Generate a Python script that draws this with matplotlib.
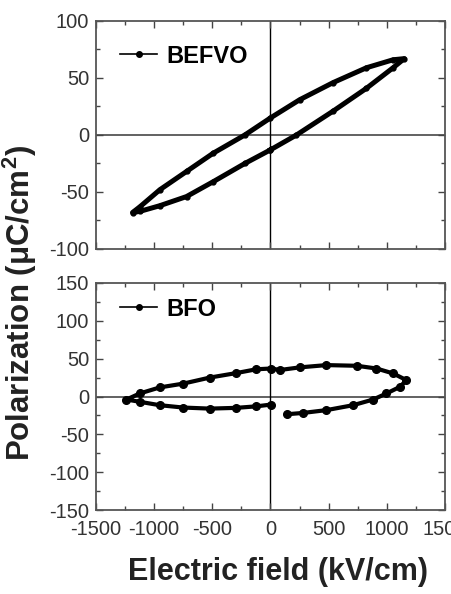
import matplotlib
matplotlib.use("Agg")
import matplotlib.pyplot as plt
from matplotlib.lines import Line2D
from matplotlib.ticker import MultipleLocator

plt.rcParams["font.family"] = ["Liberation Sans", "DejaVu Sans"]
plt.rcParams["mathtext.fontset"] = "custom"
plt.rcParams["mathtext.bf"] = "Liberation Sans:bold"
plt.rcParams["mathtext.rm"] = "Liberation Sans"
plt.rcParams["axes.unicode_minus"] = False

# BEFVO loop (kV/cm, uC/cm2)
befvo_e = [0, 223, 539, 825, 1054, 1150,
           1054, 825, 539, 252, 0, -221, -493, -722, -951, -1123, -1186,
           -1123, -951, -722, -493, -221, 0]
befvo_p = [-13, 0, 21, 41, 59, 67,
           66, 59, 46, 31, 15, 0, -16, -32, -48, -63, -68,
           -67, -62, -54, -41, -25, -13]

# BFO loop (gap near E=0 on the lower branch)
bfo_e = [138, 281, 481, 710, 882, 997, 1112, 1169,
         1054, 911, 742, 481, 252, 80, 8, -121, -293, -522, -751, -952, -1124, -1238,
         -1124, -952, -751, -522, -293, -121, 8]
bfo_p = [-23.5, -21.7, -18, -11.5, -4, 4, 12.7, 21.6,
         30.5, 37, 40.6, 41.5, 38.5, 35, 37, 36, 31, 25, 17, 12, 4, -4,
         -7, -11.5, -14.6, -16, -15, -13, -10.6]

xlim = (-1500, 1500)
top_ylim = (-100, 100)
bot_ylim = (-150, 150)

fig = plt.figure(figsize=(4.52, 5.94), dpi=100)
ax1 = fig.add_axes([96 / 452, 1 - 249 / 594, 349 / 452, 228 / 594])
ax2 = fig.add_axes([96 / 452, 1 - 510 / 594, 349 / 452, 227 / 594])

def style(ax, ylim, ymajor, show_x):
    ax.set_xlim(*xlim)
    ax.set_ylim(*ylim)
    ax.axhline(0, color="#555555", lw=1.3, zorder=1)
    ax.axvline(0, color="black", lw=1.0, zorder=1)
    ax.xaxis.set_major_locator(MultipleLocator(500))
    ax.xaxis.set_minor_locator(MultipleLocator(250))
    ax.yaxis.set_major_locator(MultipleLocator(ymajor))
    ax.yaxis.set_minor_locator(MultipleLocator(ymajor / 2))
    ax.tick_params(which="both", direction="in", top=True, right=True,
                   colors="#444444", labelcolor="#333333", labelsize=14.5,
                   width=1, pad=5)
    ax.tick_params(axis="x", pad=7)
    ax.tick_params(which="major", length=5)
    ax.tick_params(which="minor", length=3)
    if not show_x:
        ax.tick_params(axis="x", labelbottom=False)
    for s in ax.spines.values():
        s.set_color("#555555")
        s.set_linewidth(1.3)

ax1.plot(befvo_e, befvo_p, color="black", lw=3.6, marker="o", ms=3.5,
         solid_joinstyle="round", zorder=3)
ax2.plot(bfo_e, bfo_p, color="black", lw=3.0, marker="o", ms=5.5,
         solid_joinstyle="round", zorder=3)

style(ax1, top_ylim, 50, False)
style(ax2, bot_ylim, 50, True)

for ax, name, ytop in [(ax1, "BEFVO", 1.0), (ax2, "BFO", 1.04)]:
    h = Line2D([], [], color="black", lw=1.2, marker="o", ms=4)
    ax.legend([h], [name], loc="upper left", bbox_to_anchor=(0, ytop),
              frameon=False, handlelength=1.6, handletextpad=0.4,
              borderaxespad=0.6, prop={"weight": "bold", "size": 17})

fig.text(20 / 452, 1 - 303 / 594, "Polarization (μC/cm$\\mathbf{^2}$)",
         rotation=90, ha="center", va="center", fontsize=22.5, fontweight="bold",
         color="#222222")
fig.text(278 / 452, 1 - 572 / 594, "Electric field (kV/cm)",
         ha="center", va="center", fontsize=22, fontweight="bold", color="#222222")

fig.savefig("out.png", dpi=100)
